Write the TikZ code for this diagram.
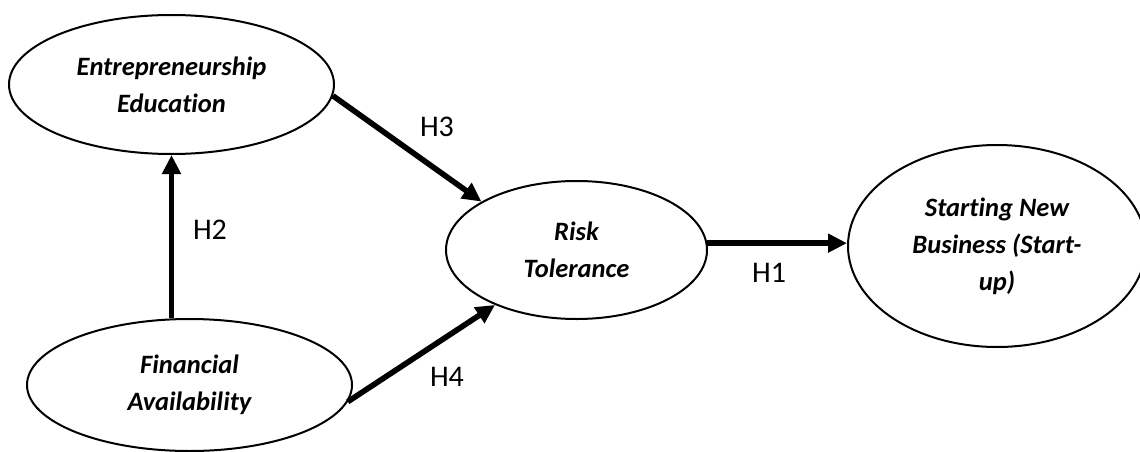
\documentclass[tikz,border=0pt]{standalone}
\usepackage{fontspec}
\setmainfont{Carlito}[Ligatures=NoCommon]
\usetikzlibrary{shapes.geometric,arrows.meta}

\begin{document}
\begin{tikzpicture}[x=1pt,y=-1pt,
        construct/.style={draw,ellipse,line width=2pt,inner sep=0pt,align=center,
            font=\fontsize{26.5}{37}\selectfont\bfseries\itshape},
        hyp/.style={line width=5.6pt,-{Triangle[length=19pt,width=18pt]}},
        hlabel/.style={font=\fontsize{30}{34}\selectfont}]
        \useasboundingbox (0,0) rectangle (1140,452);
        % constructs
        \node[construct,minimum width=325pt,minimum height=139pt] (ee) at (171.5,84.5) {Entrepreneurship\\Education};
        \node[construct,minimum width=325pt,minimum height=132pt] (fa) at (189.5,385) {Financial\\Availability};
        \node[construct,minimum width=261pt,minimum height=138pt] (rt) at (576.5,250) {Risk\\Tolerance};
        \node[construct,minimum width=298pt,minimum height=202pt] (snb) at (997,246) {Starting New\\Business (Start-\\up)};
        % hypotheses
        \draw[hyp] (fa.north -| ee.south) -- (ee.south);
        \draw[hyp] (ee.-4) -- (rt.153);
        \draw[hyp] (fa.-6) -- (rt.214);
        \draw[hyp] (rt.3) -- (rt.3 -| snb.west);
        \node[hlabel] (h1) at (769,273) {H1};
        \node[hlabel] (h2) at (210,230) {H2};
        \node[hlabel] (h3) at (437,127) {H3};
        \node[hlabel] (h4) at (447,377) {H4};
    \end{tikzpicture}
\end{document}
